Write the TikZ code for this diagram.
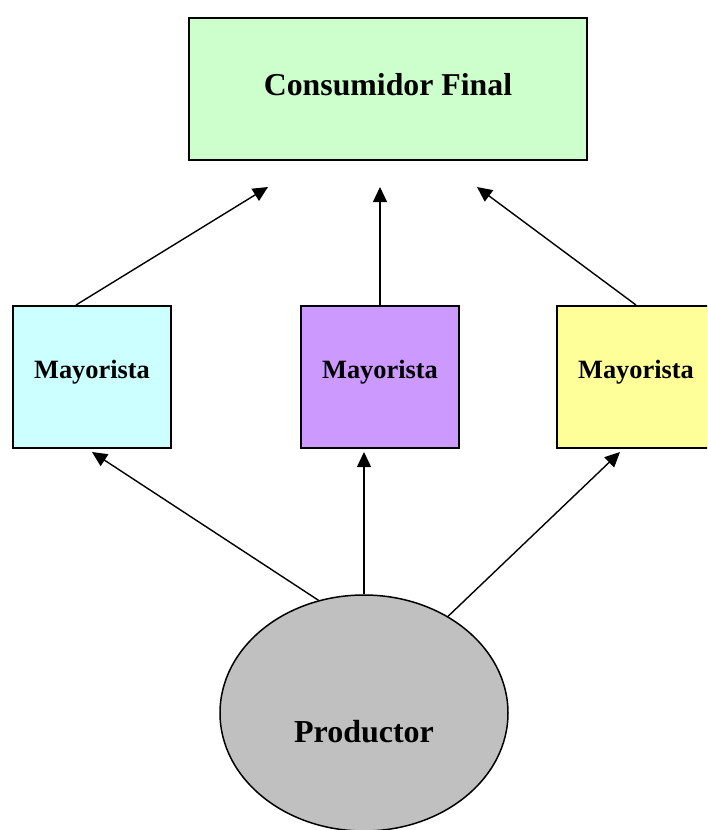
\documentclass[tikz,border=0pt]{standalone}
\usepackage{fontspec}
\setmainfont{Liberation Serif}
\usepackage{tikz}
\usepackage{xcolor}
\usetikzlibrary{arrows.meta,shapes.geometric}

\definecolor{verdeclaro}{HTML}{CCFFCC}
\definecolor{celeste}{HTML}{CCFFFF}
\definecolor{lila}{HTML}{CC99FF}
\definecolor{amarillo}{HTML}{FFFF99}
\definecolor{gris}{HTML}{C0C0C0}

\begin{document}
\begin{tikzpicture}[x=1pt, y=-1pt,
    caja/.style={draw, line width=2pt, minimum width=158pt, minimum height=142pt,
        font=\bfseries\fontsize{26.4}{30}\selectfont, text height=18pt, text depth=16pt},
    flecha/.style={line width=1.4pt, -{Triangle[length=15pt, width=14pt]}}]
    \useasboundingbox (0,0) rectangle (707,830);
    \clip (0,0) rectangle (707,830);

    % Final consumer
    \node[draw, line width=2pt, fill=verdeclaro, minimum width=398pt, minimum height=142pt,
        font=\bfseries\fontsize{31.8}{36}\selectfont, text height=22pt, text depth=10pt]
        (cons) at (388,89) {Consumidor Final};

    % The three wholesalers
    \node[caja, fill=celeste] (may1) at (92,377) {Mayorista};
    \node[caja, fill=lila] (may2) at (380,377) {Mayorista};
    \node[caja, fill=amarillo] (may3) at (636,377) {Mayorista};

    % The producer
    \node[ellipse, draw, line width=1.5pt, fill=gris, minimum width=288pt, minimum height=236pt,
        inner sep=0pt, font=\bfseries\fontsize{32}{38}\selectfont, text height=58pt, text depth=0pt]
        (prod) at (364,713) {Productor};

    % Arrow tips
    \coordinate (c1) at ([xshift=-120pt, yshift=-26pt]cons.south);
    \coordinate (c2) at ([xshift=-8pt, yshift=-26pt]cons.south);
    \coordinate (c3) at ([xshift=89pt, yshift=-26pt]cons.south);
    \coordinate (m1) at ([yshift=-3pt]may1.south);
    \coordinate (m2) at ([xshift=-16pt, yshift=-3pt]may2.south);
    \coordinate (m3) at ([xshift=-16pt, yshift=-3pt]may3.south);

    % Wholesalers to consumer
    \draw[flecha] ([xshift=-16pt]may1.north) -- (c1);
    \draw[flecha] (may2.north) -- (c2);
    \draw[flecha] (may3.north) -- (c3);

    % Producer to wholesalers
    \draw[flecha] (prod.112) -- (m1);
    \draw[flecha] (prod.north) -- (m2);
    \draw[flecha] (prod.49) -- (m3);
\end{tikzpicture}
\end{document}
